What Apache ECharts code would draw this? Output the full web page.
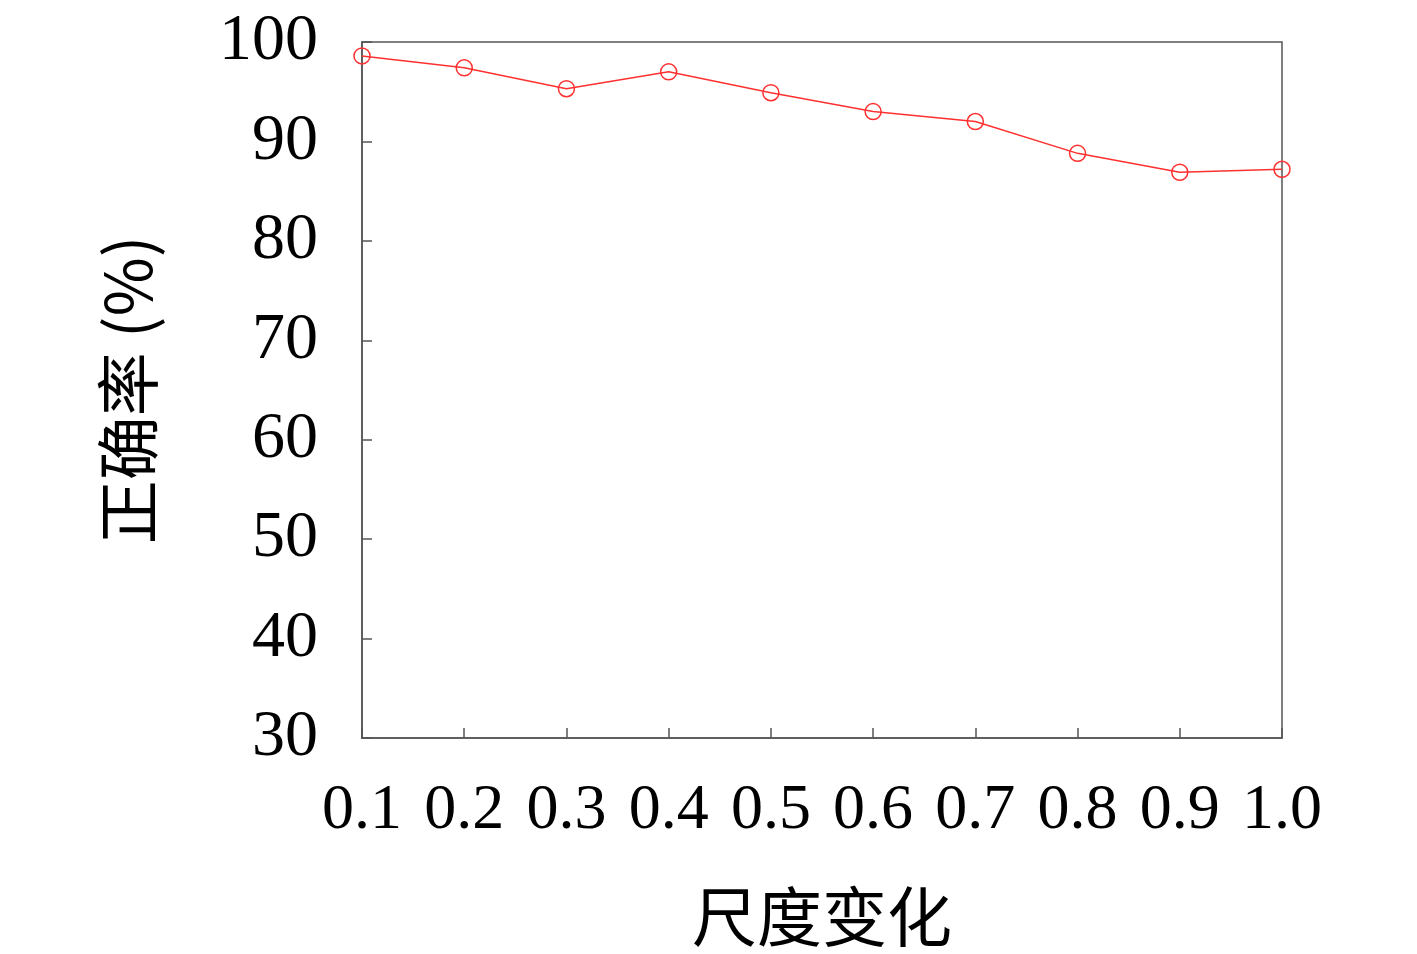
<!DOCTYPE html>
<html>
<head>
<meta charset="utf-8">
<script src="https://cdn.jsdelivr.net/npm/echarts@6/dist/echarts.min.js"></script>
<style>
	html, body { margin: 0; padding: 0; background: #fff; }
	#chart { width: 1417px; height: 954px; }
</style>
</head>
<body>
<div id="chart"></div>
<script>
// 尺度变化 - 正确率
var scales = ['0.1', '0.2', '0.3', '0.4', '0.5', '0.6', '0.7', '0.8', '0.9', '1.0'];
var accuracy = [98.6, 97.4, 95.3, 97.0, 94.9, 93.0, 92.0, 88.8, 86.9, 87.2];
var yTicks = [30, 100, 10]; // min, max, interval

var numFont = '"Liberation Serif", "DejaVu Serif", serif';
var cjkFont = '"Noto Sans CJK SC", sans-serif';
var axisColor = '#555';

var myChart = echarts.init(document.getElementById('chart'));
var option = {
	backgroundColor: '#fff',
	animation: false,
	grid: {
		left: 362,
		right: 135,
		top: 42,
		bottom: 216,
		show: true,
		borderColor: axisColor,
		borderWidth: 1.5
	},
	xAxis: {
		type: 'category',
		data: scales,
		boundaryGap: false,
		name: '尺度变化',
		nameLocation: 'middle',
		nameGap: 146,
		nameTextStyle: { fontFamily: cjkFont, fontSize: 65, color: '#000' },
		axisLine: { lineStyle: { color: axisColor, width: 1.5 } },
		axisTick: { inside: true, length: 10, interval: 0, lineStyle: { color: axisColor, width: 1.5 } },
		axisLabel: { fontFamily: numFont, fontSize: 64, color: '#000', margin: 41, interval: 0 },
		splitLine: { show: false }
	},
	yAxis: {
		type: 'value',
		min: yTicks[0],
		max: yTicks[1],
		interval: yTicks[2],
		name: '正确率 (%)',
		nameLocation: 'middle',
		nameRotate: 90,
		nameGap: 202,
		nameTextStyle: { fontFamily: cjkFont, fontSize: 64, color: '#000' },
		axisLine: { show: true, lineStyle: { color: axisColor, width: 1.5 } },
		axisTick: { show: true, inside: true, length: 10, lineStyle: { color: axisColor, width: 1.5 } },
		axisLabel: { fontFamily: numFont, fontSize: 66, color: '#000', margin: 44 },
		splitLine: { show: false }
	},
	series: [{
		name: '正确率',
		type: 'line',
		data: accuracy,
		symbol: 'circle',
		symbolSize: 16,
		lineStyle: { color: '#ff3030', width: 1.5 },
		itemStyle: { color: 'rgba(0,0,0,0)', borderColor: '#ff3030', borderWidth: 1.5 }
	}]
};
myChart.setOption(option);
</script>
</body>
</html>
